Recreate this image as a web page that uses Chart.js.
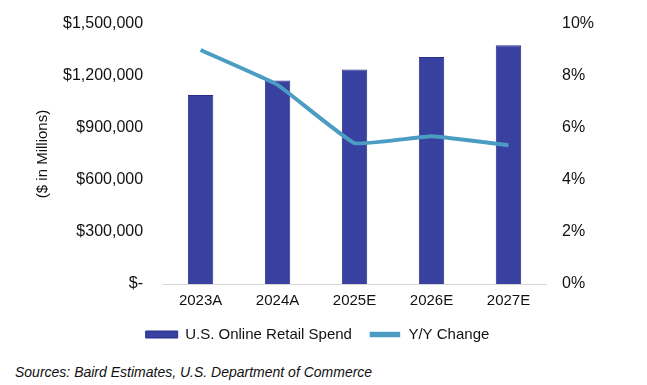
<!DOCTYPE html>
<html>
<head>
<meta charset="utf-8">
<script src="https://cdn.jsdelivr.net/npm/chart.js@4/dist/chart.umd.min.js"></script>
<style>
  body { margin: 0; background: #fff; }
  #wrap { position: relative; width: 647px; height: 385px; font-family: 'Liberation Sans', Arial, sans-serif; }
  #box { position: absolute; left: 0; top: 0; width: 647px; height: 352px; }
  #source { position: absolute; left: 15px; top: 364px; font-size: 14px; font-style: italic; color: #111; }
</style>
</head>
<body>
<div id="wrap">
  <div id="box"><canvas id="chart"></canvas></div>
  <div id="source">Sources: Baird Estimates, U.S. Department of Commerce</div>
</div>
<script>
// categories and values
const years = ['2023A', '2024A', '2025E', '2026E', '2027E'];
const onlineSpend = [1091000, 1174000, 1238000, 1309000, 1378000]; // $ millions
const yoyChange = [9.0, 7.66, 5.42, 5.68, 5.34]; // percent
const leftTicks = [0, 300000, 600000, 900000, 1200000, 1500000];
const rightTicks = [0, 2, 4, 6, 8, 10];

const barColor = '#3840a0';
const lineColor = '#4a9cc2';

const ctx = document.getElementById('chart').getContext('2d');
const myChart = new Chart(ctx, {
  data: {
    labels: years,
    datasets: [{
      type: 'bar',
      label: 'U.S. Online Retail Spend',
      data: onlineSpend,
      backgroundColor: barColor,
      borderColor: '#262e8c',
      borderWidth: 1,
      barPercentage: 0.33,
      categoryPercentage: 1,
      yAxisID: 'y',
      order: 1,
    }, {
      type: 'line',
      label: 'Y/Y Change',
      data: yoyChange,
      borderColor: lineColor,
      backgroundColor: lineColor,
      borderWidth: 4,
      pointRadius: 0,
      tension: 0.1,
      yAxisID: 'y1',
      order: 0,
    }],
  },
  options: {
    responsive: true,
    maintainAspectRatio: false,
    animation: false,
    layout: { padding: { left: 34, right: 46, top: 24, bottom: 0 } },
    scales: {
      x: {
        grid: { display: false },
        border: { display: true, color: '#d9d9d9', width: 1 },
        ticks: { color: '#111', font: { size: 15 }, padding: 0 },
      },
      y: {
        position: 'left',
        min: 0,
        max: 1500000,
        afterBuildTicks: (axis) => { axis.ticks = leftTicks.map((v) => ({ value: v })); },
        grid: { display: false },
        border: { display: false },
        ticks: {
          color: '#111',
          font: { size: 16 },
          padding: 11,
          callback: (v) => (v === 0 ? '$-' : '$' + v.toLocaleString('en-US')),
        },
        title: { display: true, text: '($ in Millions)', color: '#111', font: { size: 15 }, padding: 0 },
      },
      y1: {
        position: 'right',
        min: 0,
        max: 10,
        afterBuildTicks: (axis) => { axis.ticks = rightTicks.map((v) => ({ value: v })); },
        grid: { display: false },
        border: { display: false },
        ticks: { color: '#111', font: { size: 16 }, padding: 7, callback: (v) => v + '%' },
      },
    },
    plugins: {
      tooltip: { enabled: false },
      legend: {
        position: 'bottom',
        labels: {
          color: '#111',
          font: { size: 15 },
          boxWidth: 32,
          boxHeight: 7,
          padding: 17,
          generateLabels: (chart) => chart.data.datasets.map((ds, i) => ({
            text: ds.label,
            fillStyle: ds.type === 'bar' ? barColor : lineColor,
            strokeStyle: ds.type === 'bar' ? '#262e8c' : '#ffffff',
            lineWidth: ds.type === 'bar' ? 1 : 1.5,
            fontColor: '#111',
            datasetIndex: i,
            hidden: false,
          })),
        },
      },
    },
  },
});
</script>
</body>
</html>
